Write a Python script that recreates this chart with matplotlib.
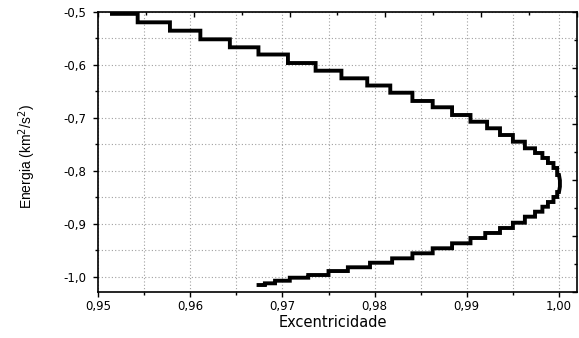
import numpy as np
import matplotlib
matplotlib.use("Agg")
import matplotlib.pyplot as plt
from matplotlib.ticker import MultipleLocator, FixedLocator

# ramo superior (energia decrescente), bordas esquerdas dos degraus
upper_x = [0.9513, 0.9543, 0.9578, 0.9611, 0.9643, 0.9674, 0.9706, 0.9736,
           0.9764, 0.9792, 0.9817, 0.9841, 0.9863, 0.9884, 0.9904, 0.9922,
           0.9936, 0.9950, 0.9963, 0.9974, 0.9982, 0.9988, 0.9994, 0.9998,
           1.0000]
upper_y = [-0.5035, -0.5195, -0.5353, -0.5516, -0.5667, -0.5803, -0.5964,
           -0.6109, -0.6253, -0.6389, -0.6525, -0.6681, -0.6800, -0.6946,
           -0.7073, -0.7197, -0.7324, -0.7450, -0.7575, -0.7664, -0.7758,
           -0.7853, -0.7947, -0.8080, -0.8080]

# ponta da curva (e ~ 1)
tip_x = [1.0000, 1.0001, 1.0001, 1.0000]
tip_y = [-0.8080, -0.8180, -0.8300, -0.8401]

# ramo inferior, em ordem crescente de excentricidade
lower_x = [0.9672, 0.9681, 0.9692, 0.9708, 0.9728, 0.9750, 0.9771, 0.9795,
           0.9819, 0.9841, 0.9863, 0.9884, 0.9904, 0.9920, 0.9936, 0.9950,
           0.9963, 0.9974, 0.9982, 0.9988, 0.9994, 0.9998, 1.0000]
lower_y = [-1.0158, -1.0126, -1.0077, -1.0020, -0.9969, -0.9894, -0.9823,
           -0.9737, -0.9654, -0.9559, -0.9464, -0.9370, -0.9270, -0.9175,
           -0.9081, -0.8981, -0.8867, -0.8773, -0.8679, -0.8590, -0.8495,
           -0.8401, -0.8401]

x_ticks = [0.95, 0.96, 0.97, 0.98, 0.99, 1.00]
x_labels = ["0,95", "0,96", "0,97", "0,98", "0,99", "1,00"]
y_ticks = [-1.0, -0.9, -0.8, -0.7, -0.6, -0.5]
y_labels = ["-1,0", "-0,9", "-0,8", "-0,7", "-0,6", "-0,5"]


def stair(x, y):
    xs = np.repeat(x, 2)[1:]
    ys = np.repeat(y, 2)[:-1]
    return xs, ys


ux, uy = stair(upper_x, upper_y)
lx, ly = stair(lower_x, lower_y)
path_x = np.concatenate([ux, tip_x, lx[::-1]])
path_y = np.concatenate([uy, tip_y, ly[::-1]])

fig = plt.figure(figsize=(5.79, 3.38), dpi=100)
ax = fig.add_axes([0.1693, 0.1361, 0.8272, 0.8284])

ax.plot(path_x, path_y, color="black", linewidth=2.8,
        solid_joinstyle="miter", solid_capstyle="butt")

ax.set_xlim(0.95, 1.00195)
ax.set_ylim(-1.029, -0.5)

ax.xaxis.set_major_locator(FixedLocator(x_ticks))
ax.set_xticklabels(x_labels)
ax.xaxis.set_minor_locator(MultipleLocator(0.005))
ax.yaxis.set_major_locator(FixedLocator(y_ticks))
ax.set_yticklabels(y_labels)
ax.yaxis.set_minor_locator(MultipleLocator(0.05))

ax.set_axisbelow(True)
ax.grid(which="both", linestyle=(0, (1, 2)), color="#a0a0a0", linewidth=0.8)

ax.tick_params(which="major", direction="out", length=3.5, width=1.0,
               labelsize=8.5, top=False, right=False)
ax.tick_params(axis="y", which="major", pad=5)
ax.tick_params(axis="x", which="major", pad=2)
ax.tick_params(which="minor", direction="out", length=2.2, width=1.0,
               top=False, right=False)
for lab in ax.get_xticklabels() + ax.get_yticklabels():
    lab.set_fontfamily("DejaVu Sans")

for s in ax.spines.values():
    s.set_linewidth(1.2)
    s.set_color("black")

ax.set_xlabel("Excentricidade", fontsize=10.5, fontfamily="DejaVu Sans")
ax.xaxis.set_label_coords(0.49, -0.083)
ax.set_ylabel("Energia (km$^2$/s$^2$)", fontsize=10, fontfamily="Liberation Sans")
ax.yaxis.set_label_coords(-0.125, 0.485)

# eixos espelhados (topo e direita) com ticks para dentro
ax2 = fig.add_axes(ax.get_position(), frameon=False)
ax2.set_xlim(0, 1)
ax2.set_ylim(0, 1)
ax2.patch.set_visible(False)
ax2.xaxis.tick_top()
ax2.yaxis.tick_right()
ax2.xaxis.set_major_locator(MultipleLocator(0.2))
ax2.xaxis.set_minor_locator(MultipleLocator(0.1))
ax2.yaxis.set_major_locator(MultipleLocator(0.2))
ax2.yaxis.set_minor_locator(MultipleLocator(0.1))
ax2.tick_params(which="major", direction="in", length=3.5, width=1.0,
                labeltop=False, labelright=False)
ax2.tick_params(which="minor", direction="in", length=2.2, width=1.0)

fig.savefig("out.png", dpi=100)
